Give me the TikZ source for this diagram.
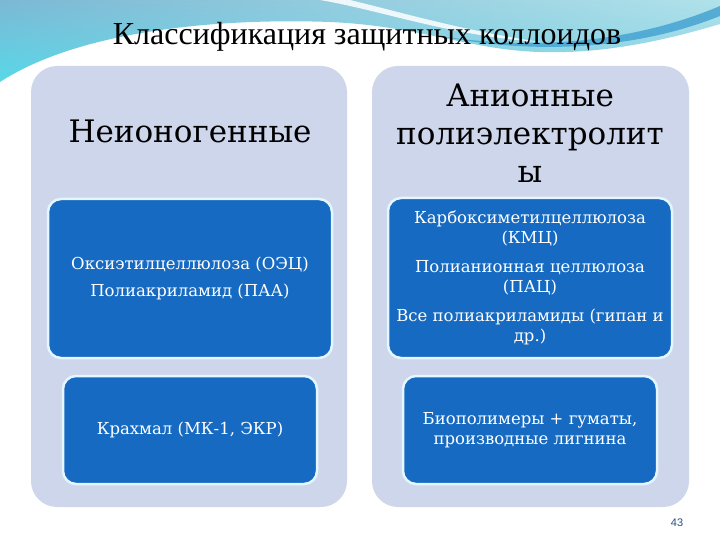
\documentclass[tikz,border=0pt]{standalone}
\usepackage{fontspec}
\usetikzlibrary{shadings}
\setmainfont{Liberation Serif}
\newfontfamily\hfont{DejaVu Serif}
\newfontfamily\pnfont{Liberation Sans}
\definecolor{colfill}{RGB}{206,214,235}
\definecolor{boxblue}{RGB}{22,106,194}
\definecolor{boxedge}{RGB}{228,246,255}
\definecolor{bandUL}{RGB}{124,184,212}
\definecolor{bandUR}{RGB}{176,226,234}
\definecolor{bandLL}{RGB}{88,216,232}
\definecolor{bandLR}{RGB}{140,210,228}
\definecolor{bandD}{RGB}{70,164,210}
\definecolor{pagenum}{RGB}{40,80,130}
\tikzset{
  colbox/.style={draw=none, fill=colfill, rounded corners=26pt, inner sep=0pt},
  bluebox/.style={draw=boxedge, line width=2.5pt, fill=boxblue, rounded corners=13pt, inner sep=0pt},
  hdr/.style={font=\hfont\fontsize{31}{38}\selectfont, align=center, text=black},
  btxt/.style={font=\hfont\fontsize{16.5}{19.5}\selectfont, align=center, text=white},
}
\begin{document}
\begin{tikzpicture}[x=1pt,y=-1pt]
\useasboundingbox (0,0) rectangle (720,540);
\fill[white] (0,0) rectangle (720,540);
% top band decoration
\shade[upper left=bandUL, upper right=bandUR, lower left=bandLL, lower right=bandLR]
  (0,0) -- (720,0) -- (720,24)
  .. controls (660,42) and (600,54) .. (540,52)
  .. controls (470,50) and (420,26) .. (330,22)
  .. controls (220,18) and (80,30) .. (0,82) -- cycle;
\fill[bandD, opacity=0.85]
  (440,36) .. controls (540,52) and (640,40) .. (720,6)
  -- (720,16) .. controls (640,48) and (540,56) .. (440,36) -- cycle;
\fill[white, opacity=0.85]
  (320,0) .. controls (380,10) and (450,36) .. (540,42)
  .. controls (460,30) and (400,12) .. (350,0) -- cycle;
% title
\node[font=\fontsize{32}{36}\selectfont] (title) at (367,37) {Классификация защитных коллоидов};
% columns
\node[colbox, minimum width=316pt, minimum height=441pt] (colL) at (189,286.5) {};
\node[colbox, minimum width=317pt, minimum height=441pt] (colR) at (530.5,286.5) {};
% headers
\node[hdr] (hdrL) at (190,131) {Неионогенные};
\node[hdr] (hdrR) at (530,133) {Анионные\\полиэлектролит\\ы};
% blue boxes
\node[bluebox, minimum width=284pt, minimum height=159pt] (boxL1) at (190,278.5) {};
\node[btxt] (txtL1) at (boxL1) {Оксиэтилцеллюлоза (ОЭЦ)\\[8pt]Полиакриламид (ПАА)};
\node[bluebox, minimum width=254pt, minimum height=108pt] (boxL2) at (190,430) {};
\node[btxt] (txtL2) at (boxL2) {Крахмал (МК-1, ЭКР)};
\node[bluebox, minimum width=284pt, minimum height=160pt] (boxR1) at (530,278) {};
\node[btxt] (txtR1) at (boxR1) {Карбоксиметилцеллюлоза\\(КМЦ)\\[10pt]Полианионная целлюлоза\\(ПАЦ)\\[10pt]Все полиакриламиды (гипан и\\др.)};
\node[bluebox, minimum width=254pt, minimum height=108pt] (boxR2) at (530,430) {};
\node[btxt] (txtR2) at (boxR2) {Биополимеры + гуматы,\\производные лигнина};
% page number
\node[font=\pnfont\fontsize{11}{13}\selectfont, text=pagenum] (pn) at (677,523) {43};
\end{tikzpicture}
\end{document}
